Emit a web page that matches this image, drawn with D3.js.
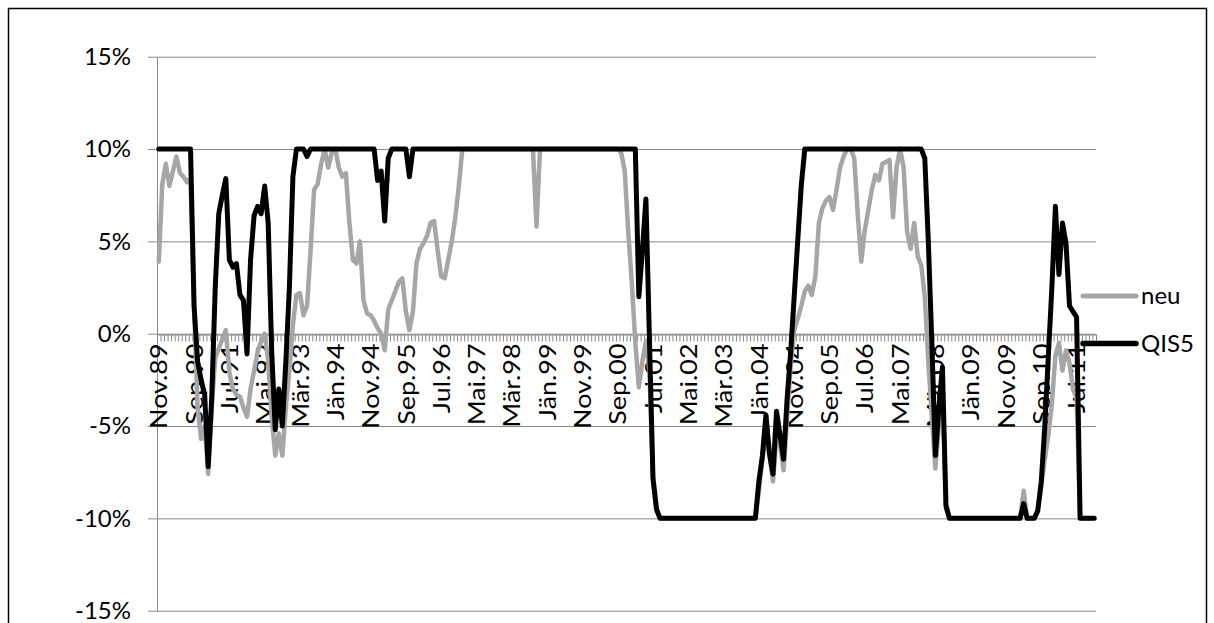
<!DOCTYPE html>
<html><head><meta charset="utf-8">
<script src="https://cdn.jsdelivr.net/npm/d3@7"></script>
<style>
html,body{margin:0;padding:0;background:#fff;}
svg{display:block;}
text{font-family:Lato,"Open Sans",sans-serif;fill:#000;}
</style></head>
<body>
<svg id="chart" width="1214" height="623"></svg>
<script>
// ---- data (monthly, Nov.89 .. Dez.11) ----
const monthNames = ["Jän","Feb","Mär","Apr","Mai","Jun","Jul","Aug","Sep","Okt","Nov","Dez"];
const tickLabels = ["Nov.89","Sep.90","Jul.91","Mai.92","Mär.93","Jän.94","Nov.94","Sep.95","Jul.96","Mai.97","Mär.98","Jän.99","Nov.99","Sep.00","Jul.01","Mai.02","Mär.03","Jän.04","Nov.04","Sep.05","Jul.06","Mai.07","Mär.08","Jän.09","Nov.09","Sep.10","Jul.11"];
const yTicks = [-15,-10,-5,0,5,10,15];
const seriesNames = ["neu","QIS5"];
const neu = [
 3.9, 8.1, 9.2, 8.0, 8.8, 9.6, 8.7, 8.5, 8.2, 8.4,
 1.5,-4.0,-5.7,-5.0,-7.6,-4.0,-1.3,-0.8,-0.3, 0.2,
-2.1,-3.0,-3.3,-3.4,-4.0,-4.5,-3.0,-2.0,-1.0,-0.4,
 0.0,-1.5,-4.5,-6.6,-5.4,-6.6,-4.0,-2.0, 0.5, 2.1,
 2.2, 1.0, 1.5, 4.5, 7.8, 8.1, 9.2,10.0, 9.0, 9.8,
10.0, 9.0, 8.5, 8.7, 6.0, 4.0, 3.8, 5.0, 1.8, 1.1,
 1.0, 0.7, 0.3, 0.0,-0.9, 1.3, 1.8, 2.3, 2.8, 3.0,
 1.2, 0.2, 1.2, 3.8, 4.6, 4.9, 5.3, 6.0, 6.1, 4.5,
 3.1, 3.0, 4.0, 5.0, 6.3, 8.0,10.0,10.0,10.0,10.0,
10.0,10.0,10.0,10.0,10.0,10.0,10.0,10.0,10.0,10.0,
10.0,10.0,10.0,10.0,10.0,10.0,10.0, 5.8,10.0,10.0,
10.0,10.0,10.0,10.0,10.0,10.0,10.0,10.0,10.0,10.0,
10.0,10.0,10.0,10.0,10.0,10.0,10.0,10.0,10.0,10.0,
10.0, 9.8, 8.8, 5.5, 2.8,-0.5,-2.9,-1.5,-0.4,-2.0,
-8.0,-9.6,-10,-10,-10,-10,-10,-10,-10,-10,
-10,-10,-10,-10,-10,-10,-10,-10,-10,-10,
-10,-10,-10,-10,-10,-10,-10,-10,-10,-10,
-8.5,-6.8,-5.5,-6.5,-8.0,-5.5,-6.0,-7.4,-4.5,-1.8,
 0.2, 0.8, 1.5, 2.3, 2.6, 2.1, 3.1, 6.0, 6.8, 7.2,
 7.4, 6.7, 7.8, 9.0, 9.6,10.0,10.0, 9.5, 6.5, 3.9,
 5.6, 6.7, 7.8, 8.6, 8.3, 9.2, 9.3, 9.4, 6.3, 9.0,
10.0, 9.0, 5.5, 4.6, 6.0, 4.2, 3.7, 2.0,-1.5,-4.5,
-7.3,-5.0,-3.0,-9.5,-10,-10,-10,-10,-10,-10,
-10,-10,-10,-10,-10,-10,-10,-10,-10,-10,
-10,-10,-10,-10,-10,-8.5,-10,-10,-10,-9.5,
-8.2,-6.8,-5.5,-3.8,-1.2,-0.5,-2.0,-0.9,-1.6,-3.0,
-3.5,-10,-10,-10,-10,-10
];
const qis5 = [
10,10,10,10,10,10,10,10,10,10,
 1.5,-1.5,-2.5,-3.3,-7.2,-3.5, 2.5, 6.5, 7.5, 8.4,
 4.0, 3.6, 3.8, 2.1, 1.8,-1.1, 4.0, 6.4, 6.9, 6.5,
 8.0, 6.0,-1.0,-5.2,-3.0,-5.0,-1.5, 2.5, 8.5,10,
10,10, 9.6,10,10,10,10,10,10,10,
10,10,10,10,10,10,10,10,10,10,
10,10, 8.3, 8.8, 6.1, 9.5,10,10,10,10,
10, 8.5,10,10,10,10,10,10,10,10,
10,10,10,10,10,10,10,10,10,10,
10,10,10,10,10,10,10,10,10,10,
10,10,10,10,10,10,10,10,10,10,
10,10,10,10,10,10,10,10,10,10,
10,10,10,10,10,10,10,10,10,10,
10,10,10,10,10,10, 2.0, 4.5, 7.3,-0.3,
-7.8,-9.5,-10,-10,-10,-10,-10,-10,-10,-10,
-10,-10,-10,-10,-10,-10,-10,-10,-10,-10,
-10,-10,-10,-10,-10,-10,-10,-10,-10,-10,
-8.0,-6.6,-4.4,-6.5,-7.6,-4.2,-5.5,-6.8,-3.5,-1.0,
 2.0, 5.0, 8.0,10,10,10,10,10,10,10,
10,10,10,10,10,10,10,10,10,10,
10,10,10,10,10,10,10,10,10,10,
10,10,10,10,10,10,10, 9.5, 5.0,-0.5,
-6.6,-4.0,-1.8,-9.3,-10,-10,-10,-10,-10,-10,
-10,-10,-10,-10,-10,-10,-10,-10,-10,-10,
-10,-10,-10,-10,-10,-9.2,-10,-10,-10,-9.6,
-8.0,-5.0,-1.2, 2.5, 6.9, 3.2, 6.0, 4.9, 1.5, 1.2,
 0.9,-10,-10,-10,-10,-10
];

// categories: month labels starting Nov.89
const categories = neu.map((_, i) => {
  const m = (10 + i) % 12;
  const y = (89 + Math.floor((10 + i) / 12)) % 100;
  return monthNames[m] + "." + String(y).padStart(2, "0");
});

// ---- layout ----
const svg = d3.select("#chart");
const plot = {left: 157, right: 1096, top: 56.7, bottom: 610.7};
const gridColor = "#888888";

svg.append("rect").attr("x", 8.5).attr("y", 8.5).attr("width", 1198).attr("height", 720)
  .attr("fill", "#fff").attr("stroke", "#000").attr("stroke-width", 1.5);

const x = d3.scaleBand().domain(categories).range([plot.left, plot.right]).padding(0);
const xIdx = d3.scaleLinear().domain([0, categories.length]).range([plot.left, plot.right]);
const y = d3.scaleLinear().domain([-15, 15]).range([plot.bottom, plot.top]);

// gridlines
const grid = svg.append("g").attr("transform", `translate(${plot.left},0)`)
  .call(d3.axisLeft(y).tickValues(yTicks).tickSize(-(plot.right - plot.left)).tickFormat(""));
grid.select(".domain").remove();
grid.selectAll("line").attr("stroke", gridColor).attr("stroke-width", 1);

// y axis
const yAxis = svg.append("g").attr("transform", `translate(${plot.left},0)`)
  .call(d3.axisLeft(y).tickValues(yTicks).tickSize(9).tickSizeOuter(0).tickPadding(17).tickFormat(d => d + "%"));
yAxis.select(".domain").attr("stroke", gridColor);
yAxis.selectAll("line").attr("stroke", gridColor);
yAxis.selectAll("text").style("font-size", "24px").style("font-family", "Lato, sans-serif").attr("fill", "#000");

// category axis at 0% : ticks at each category boundary
const y0 = Math.round(y(0)) + 0.5;
const catTicks = svg.append("g").attr("transform", `translate(0,${y0})`)
  .call(d3.axisBottom(xIdx).tickValues(d3.range(0, categories.length + 1)).tickSize(7).tickSizeOuter(0).tickFormat(""));
catTicks.select(".domain").attr("stroke", gridColor);
catTicks.selectAll("line").attr("stroke", gridColor).attr("stroke-width", 1);

// category labels
const labAxis = svg.append("g").attr("transform", `translate(0,${y0 + 9})`)
  .call(d3.axisBottom(x).tickValues(categories.filter(c => tickLabels.includes(c))).tickSize(0).tickPadding(0));
labAxis.select(".domain").remove();
labAxis.selectAll("text")
  .style("font-size", "24px").style("font-family", "Lato, sans-serif").attr("fill", "#000")
  .attr("text-anchor", "end").attr("dy", "0.36em").attr("y", 0)
  .attr("transform", "rotate(-90) scale(1.12,1)");

// lines
const line = d3.line()
  .x((d, i) => x(categories[i]) + x.bandwidth() / 2)
  .y(d => y(d));
const colors = {neu: "#a6a6a6", QIS5: "#000000"};
const widths = {neu: 4.5, QIS5: 5};
const dataBy = {neu: neu, QIS5: qis5};
seriesNames.forEach(s => {
  svg.append("path").datum(dataBy[s]).attr("d", line)
    .attr("fill", "none").attr("stroke", colors[s]).attr("stroke-width", widths[s])
    .attr("stroke-linejoin", "round").attr("stroke-linecap", "round");
});

// legend
const legend = svg.append("g");
const legY = {neu: 296, QIS5: 343.5};
seriesNames.forEach(s => {
  legend.append("line").attr("x1", 1083).attr("x2", 1136).attr("y1", legY[s]).attr("y2", legY[s])
    .attr("stroke", colors[s]).attr("stroke-width", widths[s] + 0.5).attr("stroke-linecap", "round");
  legend.append("text").attr("x", 1141).attr("y", legY[s]).attr("dy", "0.35em")
    .style("font-size", "24px").text(s);
});
</script>
</body></html>
